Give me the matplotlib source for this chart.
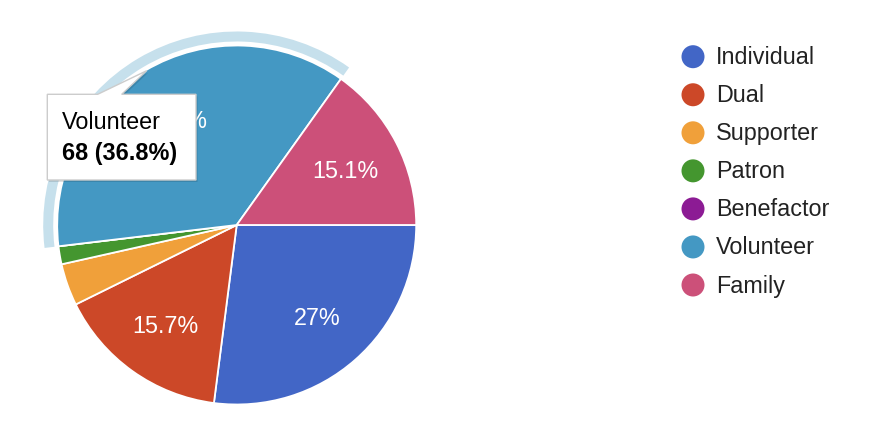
import matplotlib.pyplot as plt
from matplotlib.patches import Wedge, Polygon, Circle
import numpy as np

# data
categories = ["Individual", "Dual", "Supporter", "Patron", "Benefactor", "Volunteer", "Family"]
counts = [50, 29, 7, 3, 0, 68, 28]
colors = ["#4266c6", "#cc4828", "#f0a03a", "#44962f", "#8c1b94", "#4498c3", "#cc5079"]
shown_labels = ["27%", "15.7%", "", "", "", "36.8%", "15.1%"]

W, H = 870, 440
plt.rcParams["font.family"] = ["Liberation Sans", "DejaVu Sans"]

fig = plt.figure(figsize=(W / 100, H / 100), dpi=100)
ax = fig.add_axes([0, 0, 1, 1])

cx, cy, R = 236.7, H - 225, 179.5

wedges, _ = ax.pie(counts, colors=colors, radius=R, center=(cx, cy),
                   startangle=0, counterclock=False,
                   wedgeprops=dict(edgecolor="white", linewidth=1.3))

# hover ring around the Volunteer slice
hv = categories.index("Volunteer")
w = wedges[hv]
ax.add_patch(Wedge((cx, cy), R + 14, w.theta1, w.theta2, width=10,
                   facecolor="#c6e0ec", edgecolor="none", zorder=0.5))

# slice labels
for wd, lab in zip(wedges, shown_labels):
    if not lab:
        continue
    mid = np.deg2rad((wd.theta1 + wd.theta2) / 2)
    ax.text(cx + 0.68 * R * np.cos(mid), cy + 0.68 * R * np.sin(mid) - 2, lab,
            color="white", fontsize=16.8, ha="center", va="center", zorder=3)

# tooltip
box = [(47.3, 94.3), (97.7, 94.3), (146.7, 70.7), (121.7, 94.3),
       (196, 94.3), (196, 180), (47.3, 180)]
shadow = [(x + 1.5, H - y - 2) for x, y in box]
ax.add_patch(Polygon(shadow, closed=True, facecolor="#000000", alpha=0.12,
                     edgecolor="none", zorder=4))
ax.add_patch(Polygon([(x, H - y) for x, y in box], closed=True, facecolor="white",
                     edgecolor="#cccccc", linewidth=1, zorder=5))
ax.text(61.7, H - 128.5, categories[hv], fontsize=16.8, color="black",
        ha="left", va="baseline", zorder=6)
pct = counts[hv] / sum(counts) * 100
ax.text(61.7, H - 159.5, f"{counts[hv]} ({pct:.1f}%)", fontsize=16.8,
        fontweight="bold", color="black", ha="left", va="baseline", zorder=6)

# legend
for i, (cat, col) in enumerate(zip(categories, colors)):
    y = H - (56.7 + 38.05 * i)
    ax.add_patch(Circle((693, y), 11.5, facecolor=col, edgecolor="none"))
    ax.text(716, y - 1, cat, fontsize=16.8, color="#222222", ha="left", va="center")

ax.set_xlim(0, W)
ax.set_ylim(0, H)
ax.set_aspect("equal")
ax.axis("off")

fig.savefig("out.png", dpi=100)
